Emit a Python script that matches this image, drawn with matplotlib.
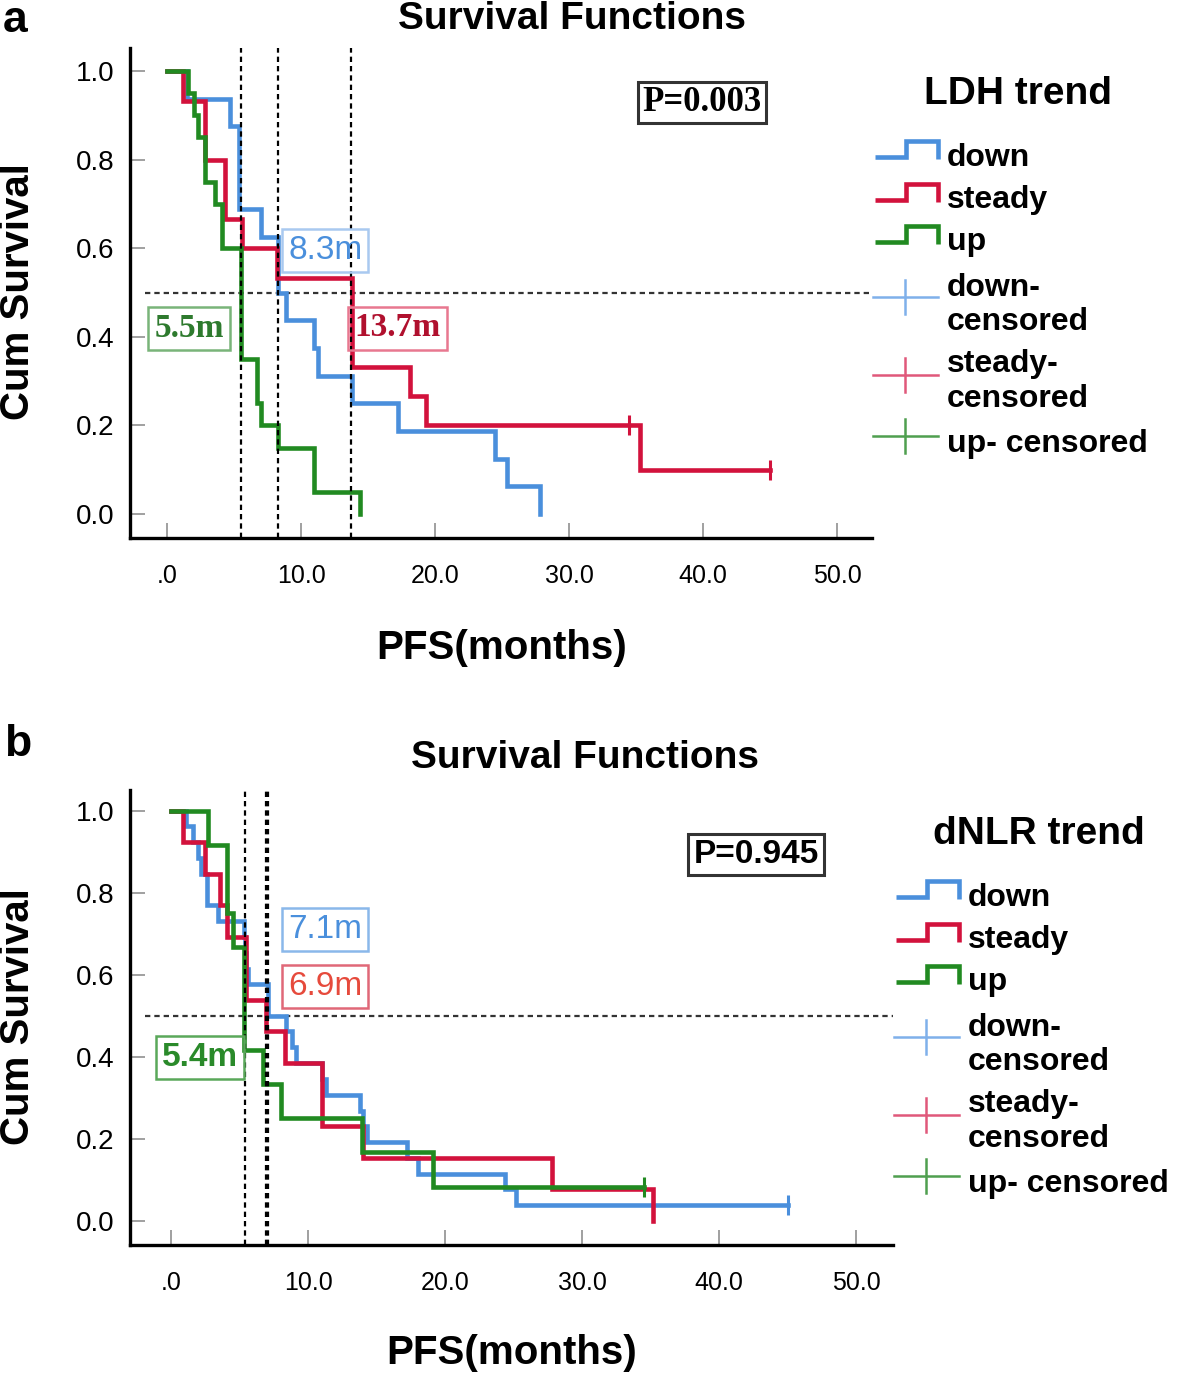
import matplotlib
matplotlib.use('Agg')
import matplotlib.pyplot as plt
import numpy as np

# ---------------- data ----------------
months_ticks = [0, 10, 20, 30, 40, 50]
month_tick_labels = ['.0', '10.0', '20.0', '30.0', '40.0', '50.0']
surv_ticks = [0.0, 0.2, 0.4, 0.6, 0.8, 1.0]
surv_tick_labels = ['0.0', '0.2', '0.4', '0.6', '0.8', '1.0']
groups = ['down', 'steady', 'up']

# Panel a : LDH trend
ldh_down_t = [0, 1.5, 4.7, 5.4, 7.0, 8.3, 8.9, 11.0, 11.3, 13.8, 17.2, 24.5, 25.4, 27.8]
ldh_down_s = [1.0, 0.9375, 0.875, 0.6875, 0.625, 0.5, 0.4375, 0.375, 0.3125, 0.25, 0.1875, 0.125, 0.0625, 0.0]
ldh_down_cens = []
ldh_steady_t = [0, 1.2, 2.8, 4.3, 5.6, 8.2, 13.8, 18.1, 19.3, 35.3]
ldh_steady_s = [1.0, 0.933, 0.8, 0.667, 0.6, 0.533, 0.333, 0.267, 0.2, 0.1]
ldh_steady_cens = [34.5, 45.0]
ldh_up_t = [0, 1.55, 2.0, 2.3, 2.8, 3.6, 4.1, 5.5, 6.7, 7.0, 8.3, 11.0, 14.4]
ldh_up_s = [1.0, 0.95, 0.90, 0.85, 0.75, 0.70, 0.60, 0.35, 0.25, 0.20, 0.15, 0.05, 0.0]
ldh_up_cens = []
ldh_medians = [8.3, 13.7, 5.5]
ldh_median_labels = ['8.3m', '13.7m', '5.5m']
ldh_p_label = 'P=0.003'

# Panel b : dNLR trend
dnlr_down_t = [0, 1.1, 1.6, 2.0, 2.2, 2.6, 3.4, 5.3, 5.4, 5.5, 5.6, 7.1, 8.4, 8.8, 9.1,
               11.0, 11.3, 13.8, 14.0, 14.3, 17.2, 18.0, 24.4, 25.2]
dnlr_down_s = [1.0, 0.962, 0.923, 0.885, 0.846, 0.769, 0.731, 0.692, 0.654, 0.615, 0.577, 0.5,
               0.462, 0.423, 0.385, 0.346, 0.308, 0.269, 0.231, 0.192, 0.154, 0.115, 0.077, 0.038]
dnlr_down_cens = [45.0]
dnlr_steady_t = [0, 0.9, 2.5, 3.6, 4.1, 5.5, 6.9, 8.3, 11.0, 14.0, 27.8, 35.2]
dnlr_steady_s = [1.0, 0.923, 0.846, 0.769, 0.692, 0.538, 0.462, 0.385, 0.231, 0.154, 0.077, 0.0]
dnlr_steady_cens = []
dnlr_up_t = [0, 2.7, 4.1, 4.5, 5.3, 6.7, 8.0, 13.9, 19.1]
dnlr_up_s = [1.0, 0.917, 0.75, 0.667, 0.417, 0.333, 0.25, 0.167, 0.083]
dnlr_up_cens = [34.5]
dnlr_medians = [7.1, 6.9, 5.4]
dnlr_median_labels = ['7.1m', '6.9m', '5.4m']
dnlr_p_label = 'P=0.945'

# ---------------- style ----------------
BLUE = '#4a8fdc'
RED = '#d2123c'
GREEN = '#218a21'
BLUE_L = '#7fb0ea'
RED_L = '#e0587a'
GREEN_L = '#4f9f4f'
SANS = 'Liberation Sans'
SERIF = 'Liberation Serif'

fig = plt.figure(figsize=(11.8, 13.78), dpi=100)
W, H = 1180, 1378


def px_axes(left, top, right, bottom):
    return fig.add_axes([left / W, 1 - bottom / H, (right - left) / W, (bottom - top) / H])


def km(ax, t, s, cens, color):
    tt = list(t)
    ss = list(s)
    if cens and max(cens) > tt[-1]:
        tt.append(max(cens))
        ss.append(ss[-1])
    ax.step(tt, ss, where='post', color=color, lw=3.3, solid_joinstyle='miter', zorder=3)
    for c in cens:
        idx = np.searchsorted(t, c, side='right') - 1
        ax.plot([c], [s[idx]], marker='|', ms=15, mew=2.2, color=color, zorder=4)


def style_axes(ax, xlim, ylim):
    ax.set_xlim(*xlim)
    ax.set_ylim(*ylim)
    for sp in ['top', 'right']:
        ax.spines[sp].set_visible(False)
    for sp in ['left', 'bottom']:
        ax.spines[sp].set_linewidth(2.4)
        ax.spines[sp].set_color('black')
    ax.set_xticks(months_ticks)
    ax.set_xticklabels(month_tick_labels, fontfamily=SANS, fontsize=18)
    ax.set_yticks(surv_ticks)
    ax.set_yticklabels(surv_tick_labels, fontfamily=SANS, fontsize=20)
    ax.tick_params(axis='x', direction='in', length=11, width=1.4, color='#a0a0a0', pad=19)
    ax.tick_params(axis='y', direction='in', length=11, width=1.4, color='#a0a0a0', pad=11)


def ref_lines(ax, medians):
    for m in medians:
        ax.axvline(m, color='black', lw=1.6, ls=(0, (2.4, 1.8)), zorder=5)
    ax.axhline(0.5, xmin=0.02, xmax=1.0, color='#333333', lw=1.6, ls=(0, (2.4, 1.8)), zorder=2)


def label_box(ax, x, y, txt, tcolor, ecolor, family, weight='bold', size=24, pad=0.18):
    ax.text(x, y, txt, color=tcolor, fontsize=size, fontfamily=family, fontweight=weight,
            ha='center', va='center', zorder=6,
            bbox=dict(boxstyle='square,pad=%.2f' % pad, facecolor='none', edgecolor=ecolor, lw=1.8))


# ---------------- panel a ----------------
axa = px_axes(130, 48, 872, 538)
style_axes(axa, (-2.76, 52.6), (-0.054, 1.052))
km(axa, ldh_down_t, ldh_down_s, ldh_down_cens, BLUE)
km(axa, ldh_steady_t, ldh_steady_s, ldh_steady_cens, RED)
km(axa, ldh_up_t, ldh_up_s, ldh_up_cens, GREEN)
ref_lines(axa, ldh_medians)
label_box(axa, 11.8, 0.595, ldh_median_labels[0], BLUE, '#a9c9f0', SANS, weight='normal')
label_box(axa, 17.2, 0.42, ldh_median_labels[1], '#b0102e', '#e87890', SERIF)
label_box(axa, 1.65, 0.418, ldh_median_labels[2], '#2e7a2e', '#79b479', SERIF)
axa.text(39.9, 0.929, ldh_p_label, fontsize=25, fontfamily=SERIF, fontweight='bold',
         ha='center', va='center', zorder=6,
         bbox=dict(boxstyle='square,pad=0.12', facecolor='white', edgecolor='#333333', lw=2.2))

# ---------------- panel b ----------------
axb = px_axes(130, 790, 893, 1245)
style_axes(axb, (-3.0, 52.7), (-0.0585, 1.05))
km(axb, dnlr_down_t, dnlr_down_s, dnlr_down_cens, BLUE)
km(axb, dnlr_steady_t, dnlr_steady_s, dnlr_steady_cens, RED)
km(axb, dnlr_up_t, dnlr_up_s, dnlr_up_cens, GREEN)
ref_lines(axb, dnlr_medians)
label_box(axb, 11.24, 0.71, dnlr_median_labels[0], BLUE, '#8ab8ea', SANS, weight='normal')
label_box(axb, 11.24, 0.572, dnlr_median_labels[1], '#e64a3c', '#e06878', SANS, weight='normal')
label_box(axb, 2.12, 0.398, dnlr_median_labels[2], '#2a8a2a', '#5aa85a', SANS)
axb.text(42.7, 0.893, dnlr_p_label, fontsize=24, fontfamily=SANS, fontweight='bold',
         ha='center', va='center', zorder=6,
         bbox=dict(boxstyle='square,pad=0.15', facecolor='white', edgecolor='#333333', lw=2.2))

# ---------------- overlay: titles, labels, legends ----------------
ov = fig.add_axes([0, 0, 1, 1])
ov.set_xlim(0, W)
ov.set_ylim(H, 0)
ov.axis('off')
ov.patch.set_alpha(0)

for (letter, lx, ly), (tx, ty), (ylx, yly), (xlx, xly) in [
        (('a', 15, 20), (572, 19), (18, 292), (502, 648)),
        (('b', 18, 745), (585, 758), (18, 1017), (512, 1353))]:
    ov.text(lx, ly, letter, fontsize=32, fontweight='bold', fontfamily=SANS, ha='center', va='center')
    ov.text(tx, ty, 'Survival Functions', fontsize=28, fontweight='bold', fontfamily=SANS,
            ha='center', va='center')
    ov.text(ylx, yly, 'Cum Survival', fontsize=29, fontweight='bold', fontfamily=SANS,
            rotation=90, ha='center', va='center')
    ov.text(xlx, xly, 'PFS(months)', fontsize=29, fontweight='bold', fontfamily=SANS,
            ha='center', va='center')


def draw_legend(dx, dy, title):
    ov.text(1018 + dx, 104 + dy, title, fontsize=28, fontweight='bold', fontfamily=SANS,
            ha='center', va='baseline')
    step_specs = [(BLUE, 0, groups[0], 166), (RED, 43, groups[1], 208), (GREEN, 85, groups[2], 250)]
    for color, off, lab, base in step_specs:
        xs = [875 + dx, 906 + dx, 906 + dx, 938 + dx, 938 + dx]
        ys = [157 + off + dy, 157 + off + dy, 141 + off + dy, 141 + off + dy, 159 + off + dy]
        ov.plot(xs, ys, color=color, lw=3.3, solid_joinstyle='miter', solid_capstyle='butt')
        ov.text(947 + dx, base + dy, lab, fontsize=23, fontweight='bold', fontfamily=SANS,
                ha='left', va='baseline')
    cens_specs = [(BLUE_L, 297, [(groups[0] + '-', 296), ('censored', 330)]),
                  (RED_L, 375, [(groups[1] + '-', 372), ('censored', 407)]),
                  (GREEN_L, 436, [(groups[2] + '- censored', 452)])]
    for color, yc, texts in cens_specs:
        ov.plot([873 + dx, 938 + dx], [yc + dy, yc + dy], color=color, lw=1.8)
        ov.plot([905 + dx, 905 + dx], [yc - 17 + dy, yc + 17 + dy], color=color, lw=1.8)
        for txt, base in texts:
            ov.text(947 + dx, base + dy, txt, fontsize=23, fontweight='bold', fontfamily=SANS,
                    ha='left', va='baseline')


draw_legend(0, 0, 'LDH trend')
draw_legend(21, 740, 'dNLR trend')

fig.savefig('out.png', dpi=100)
